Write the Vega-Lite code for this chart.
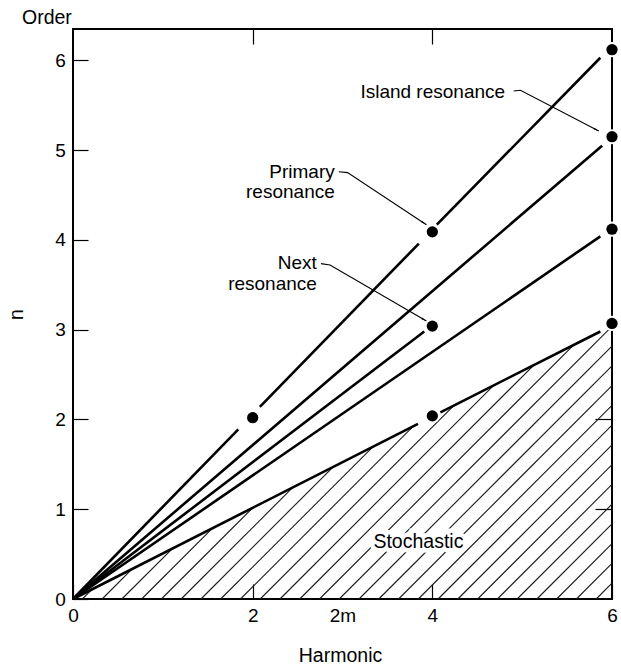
{
  "$schema": "https://vega.github.io/schema/vega-lite/v6.json",
  "width": 539,
  "height": 570,
  "autosize": "none",
  "padding": {"left": 73, "top": 29, "right": 9, "bottom": 67},
  "background": "white",
  "title": {
    "text": "Order",
    "anchor": "start",
    "frame": "group",
    "dx": -51,
    "offset": -14.7,
    "baseline": "alphabetic",
    "font": "Liberation Sans",
    "fontSize": 19.5,
    "fontWeight": "normal",
    "color": "black"
  },
  "datasets": {
    "hatch": [
      {"x0": 0.104, "y0": 0, "x1": 0.211, "y1": 0.107},
      {"x0": 0.324, "y0": 0, "x1": 0.659, "y1": 0.335},
      {"x0": 0.544, "y0": 0, "x1": 1.106, "y1": 0.562},
      {"x0": 0.764, "y0": 0, "x1": 1.553, "y1": 0.789},
      {"x0": 0.984, "y0": 0, "x1": 2.0, "y1": 1.016},
      {"x0": 1.204, "y0": 0, "x1": 2.447, "y1": 1.243},
      {"x0": 1.424, "y0": 0, "x1": 2.894, "y1": 1.47},
      {"x0": 1.644, "y0": 0, "x1": 3.341, "y1": 1.697},
      {"x0": 1.864, "y0": 0, "x1": 3.789, "y1": 1.925},
      {"x0": 2.084, "y0": 0, "x1": 4.236, "y1": 2.152},
      {"x0": 2.304, "y0": 0, "x1": 4.683, "y1": 2.379},
      {"x0": 2.524, "y0": 0, "x1": 5.13, "y1": 2.606},
      {"x0": 2.744, "y0": 0, "x1": 5.577, "y1": 2.833},
      {"x0": 2.964, "y0": 0, "x1": 6, "y1": 3.036},
      {"x0": 3.184, "y0": 0, "x1": 6, "y1": 2.816},
      {"x0": 3.404, "y0": 0, "x1": 6, "y1": 2.596},
      {"x0": 3.624, "y0": 0, "x1": 6, "y1": 2.376},
      {"x0": 3.844, "y0": 0, "x1": 6, "y1": 2.156},
      {"x0": 4.064, "y0": 0, "x1": 6, "y1": 1.936},
      {"x0": 4.284, "y0": 0, "x1": 6, "y1": 1.716},
      {"x0": 4.504, "y0": 0, "x1": 6, "y1": 1.496},
      {"x0": 4.724, "y0": 0, "x1": 6, "y1": 1.276},
      {"x0": 4.944, "y0": 0, "x1": 6, "y1": 1.056},
      {"x0": 5.164, "y0": 0, "x1": 6, "y1": 0.836},
      {"x0": 5.384, "y0": 0, "x1": 6, "y1": 0.616},
      {"x0": 5.604, "y0": 0, "x1": 6, "y1": 0.396},
      {"x0": 5.824, "y0": 0, "x1": 6, "y1": 0.176}
    ],
    "lines": [
      {"seg": "p1a", "x": 0, "y": 0}, {"seg": "p1a", "x": 1.84, "y": 1.89},
      {"seg": "p1b", "x": 2.08, "y": 2.14}, {"seg": "p1b", "x": 3.85, "y": 3.96},
      {"seg": "p1c", "x": 4.05, "y": 4.17}, {"seg": "p1c", "x": 5.87, "y": 6.03},
      {"seg": "p2", "x": 0, "y": 0}, {"seg": "p2", "x": 5.89, "y": 5.05},
      {"seg": "p3", "x": 0, "y": 0}, {"seg": "p3", "x": 5.87, "y": 4.04},
      {"seg": "p4", "x": 0, "y": 0}, {"seg": "p4", "x": 3.91, "y": 2.98},
      {"seg": "p5a", "x": 0, "y": 0}, {"seg": "p5a", "x": 3.84, "y": 1.95},
      {"seg": "p5b", "x": 4.09, "y": 2.08}, {"seg": "p5b", "x": 5.87, "y": 2.98}
    ],
    "leaders": [
      {"label": "island", "x": 4.906, "y": 5.659},
      {"label": "island", "x": 4.981, "y": 5.667},
      {"label": "island", "x": 5.853, "y": 5.213},
      {"label": "primary", "x": 2.96, "y": 4.76},
      {"label": "primary", "x": 3.056, "y": 4.75},
      {"label": "primary", "x": 3.934, "y": 4.17},
      {"label": "next", "x": 2.76, "y": 3.736},
      {"label": "next", "x": 2.861, "y": 3.721},
      {"label": "next", "x": 3.934, "y": 3.096}
    ],
    "dots": [
      {"harmonic": 2, "order": 2.02},
      {"harmonic": 4, "order": 4.09},
      {"harmonic": 6, "order": 6.12},
      {"harmonic": 6, "order": 5.15},
      {"harmonic": 6, "order": 4.12},
      {"harmonic": 6, "order": 3.07},
      {"harmonic": 4, "order": 3.04},
      {"harmonic": 4, "order": 2.04}
    ],
    "heads": [
      {"x": 5.818, "y": 5.231, "dir": 117.5},
      {"x": 3.901, "y": 4.192, "dir": 123.5},
      {"x": 3.899, "y": 3.116, "dir": 120.2},
      {"x": 5.84, "y": 6.0, "dir": 44.2},
      {"x": 5.86, "y": 5.025, "dir": 49.4},
      {"x": 5.835, "y": 4.016, "dir": 55.5},
      {"x": 3.878, "y": 2.956, "dir": 52.7},
      {"x": 5.834, "y": 2.962, "dir": 63.1},
      {"x": 3.804, "y": 1.932, "dir": 63.1},
      {"x": 4.126, "y": 2.098, "dir": 243.1}
    ],
    "notes": [
      {"text": "Island resonance", "x": 4.81, "y": 5.585},
      {"text": "Primary", "x": 2.914, "y": 4.69},
      {"text": "resonance", "x": 2.914, "y": 4.465},
      {"text": "Next", "x": 2.715, "y": 3.674},
      {"text": "resonance", "x": 2.715, "y": 3.437}
    ],
    "region": [
      {"text": "Stochastic", "x": 3.845, "y": 0.572}
    ]
  },
  "resolve": {"scale": {"x": "independent", "y": "independent"}},
  "layer": [
    {
      "data": {"name": "hatch"},
      "mark": {"type": "rule", "color": "#1a1a1a", "strokeWidth": 1.1},
      "encoding": {
        "x": {
          "field": "x0", "type": "quantitative",
          "scale": {"domain": [0, 6], "nice": false},
          "axis": {
            "orient": "bottom",
            "values": [0, 2, 3, 4, 6],
            "labelExpr": "datum.value == 3 ? '2m' : datum.label",
            "tickSize": -15,
            "tickOpacity": {"condition": {"test": "datum.value == 3", "value": 0}, "value": 1},
            "labelPadding": 37.4,
            "labelBaseline": "alphabetic",
            "labelFlush": false,
            "title": "Harmonic",
            "titleX": 267,
            "titleY": 62.4,
            "titleAlign": "center",
            "titleBaseline": "alphabetic"
          }
        },
        "x2": {"field": "x1"},
        "y": {
          "field": "y0", "type": "quantitative",
          "scale": {"domain": [0, 6.35], "nice": false},
          "axis": {
            "orient": "left",
            "values": [0, 1, 2, 3, 4, 5, 6],
            "tickSize": -15,
            "labelPadding": 22.7,
            "labelFlush": false,
            "title": "n",
            "titleX": -50.7,
            "titleY": 285,
            "titleAngle": 270,
            "titleAlign": "center",
            "titleBaseline": "alphabetic"
          }
        },
        "y2": {"field": "y1"}
      }
    },
    {
      "data": {"name": "lines"},
      "mark": {"type": "line", "color": "black", "strokeWidth": 2.6},
      "encoding": {
        "x": {
          "field": "x", "type": "quantitative",
          "scale": {"domain": [0, 6], "nice": false},
          "axis": {"orient": "top", "values": [2, 4], "labels": false, "tickSize": -15, "title": null}
        },
        "y": {
          "field": "y", "type": "quantitative",
          "scale": {"domain": [0, 6.35], "nice": false},
          "axis": {"orient": "right", "values": [1, 2], "labels": false, "tickSize": -17, "title": null}
        },
        "detail": {"field": "seg"}
      }
    },
    {
      "data": {"name": "leaders"},
      "mark": {"type": "line", "color": "black", "strokeWidth": 1.1},
      "encoding": {
        "x": {"field": "x", "type": "quantitative", "scale": {"domain": [0, 6], "nice": false}, "axis": null},
        "y": {"field": "y", "type": "quantitative", "scale": {"domain": [0, 6.35], "nice": false}, "axis": null},
        "detail": {"field": "label"},
        "order": {"field": "x", "type": "quantitative"}
      }
    },
    {
      "data": {"name": "dots"},
      "mark": {"type": "circle", "color": "white", "opacity": 1, "size": 230},
      "encoding": {
        "x": {"field": "harmonic", "type": "quantitative", "scale": {"domain": [0, 6], "nice": false}, "axis": null},
        "y": {"field": "order", "type": "quantitative", "scale": {"domain": [0, 6.35], "nice": false}, "axis": null}
      }
    },
    {
      "data": {"name": "dots"},
      "mark": {"type": "circle", "color": "black", "opacity": 1, "size": 127},
      "encoding": {
        "x": {"field": "harmonic", "type": "quantitative", "scale": {"domain": [0, 6], "nice": false}, "axis": null},
        "y": {"field": "order", "type": "quantitative", "scale": {"domain": [0, 6.35], "nice": false}, "axis": null}
      }
    },
    {
      "data": {"name": "heads"},
      "mark": {"type": "point", "shape": "wedge", "filled": true, "color": "black", "opacity": 1, "size": 45},
      "encoding": {
        "x": {"field": "x", "type": "quantitative", "scale": {"domain": [0, 6], "nice": false}, "axis": null},
        "y": {"field": "y", "type": "quantitative", "scale": {"domain": [0, 6.35], "nice": false}, "axis": null},
        "angle": {"field": "dir", "type": "quantitative", "scale": null}
      }
    },
    {
      "data": {"name": "notes"},
      "mark": {"type": "text", "align": "right", "baseline": "alphabetic", "font": "Liberation Sans", "fontSize": 19, "color": "black"},
      "encoding": {
        "x": {"field": "x", "type": "quantitative", "scale": {"domain": [0, 6], "nice": false}, "axis": null},
        "y": {"field": "y", "type": "quantitative", "scale": {"domain": [0, 6.35], "nice": false}, "axis": null},
        "text": {"field": "text"}
      }
    },
    {
      "data": {"name": "region"},
      "mark": {"type": "text", "align": "center", "baseline": "alphabetic", "font": "Liberation Sans", "fontSize": 19.5, "fill": "white", "stroke": "white", "strokeWidth": 9},
      "encoding": {
        "x": {"field": "x", "type": "quantitative", "scale": {"domain": [0, 6], "nice": false}, "axis": null},
        "y": {"field": "y", "type": "quantitative", "scale": {"domain": [0, 6.35], "nice": false}, "axis": null},
        "text": {"field": "text"}
      }
    },
    {
      "data": {"name": "region"},
      "mark": {"type": "text", "align": "center", "baseline": "alphabetic", "font": "Liberation Sans", "fontSize": 19.5, "color": "black"},
      "encoding": {
        "x": {"field": "x", "type": "quantitative", "scale": {"domain": [0, 6], "nice": false}, "axis": null},
        "y": {"field": "y", "type": "quantitative", "scale": {"domain": [0, 6.35], "nice": false}, "axis": null},
        "text": {"field": "text"}
      }
    }
  ],
  "config": {
    "view": {"stroke": "black", "strokeWidth": 2},
    "axis": {
      "domain": false,
      "grid": false,
      "ticks": true,
      "tickColor": "black",
      "tickWidth": 1.2,
      "labelFont": "Liberation Sans",
      "labelFontSize": 19,
      "labelColor": "black",
      "labelOverlap": false,
      "titleFont": "Liberation Sans",
      "titleFontSize": 19.5,
      "titleFontWeight": "normal",
      "titleColor": "black"
    }
  }
}
